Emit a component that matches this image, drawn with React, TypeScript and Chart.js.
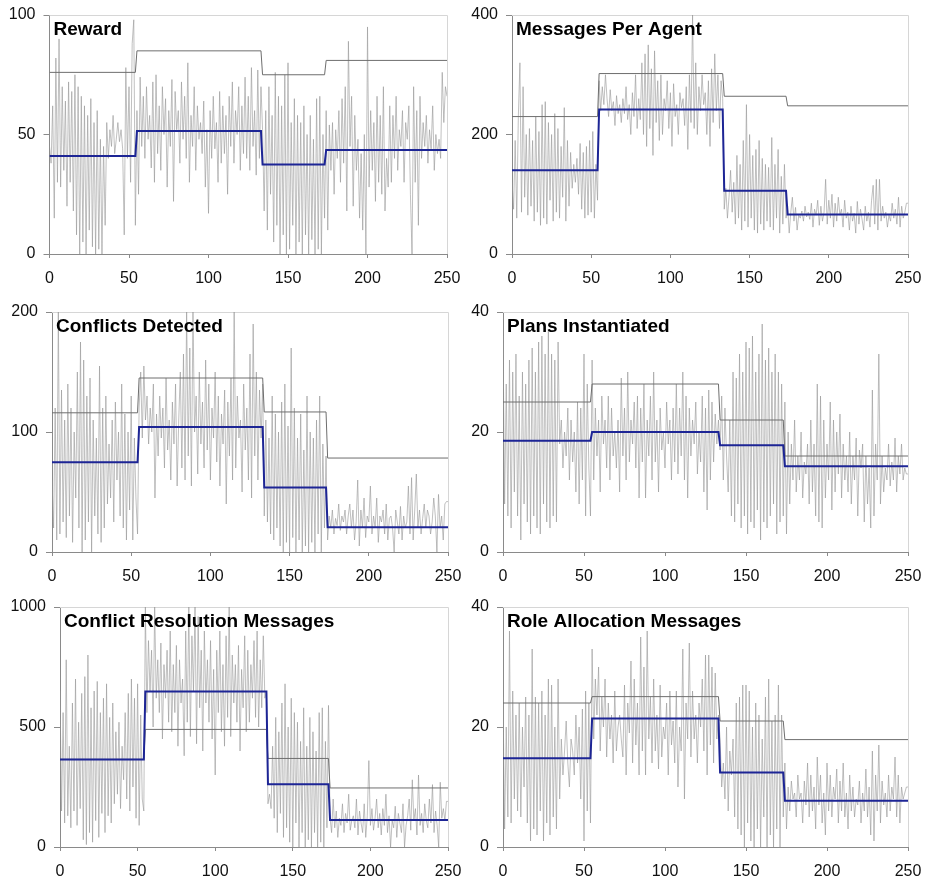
import React, { useEffect, useRef } from "react";
import { Chart, registerables } from "chart.js";

Chart.register(...registerables);

const X_TICKS = [0, 50, 100, 150, 200, 250];
const STEP_X = [0, 54, 55, 133, 134, 173, 174, 250];

const REWARD = [
  45, 38, 62, 15, 82, 30, 90, 28, 70, 35,
  64, 20, 72, 30, 68, 18, 75, 8, 70, 0,
  66, 5, 62, 0, 58, 10, 65, 3, 55, 0,
  60, 2, 48, 0, 45, 12, 55, 40, 52, 45,
  58, 42, 48, 55, 47, 52, 44, 8, 78, 40,
  70, 30, 88, 98, 12,
  60, 25, 74, 45, 66, 40, 70, 48, 58, 36,
  72, 30, 75, 42, 62, 35, 70, 50, 65, 28,
  60, 45, 73, 22, 68, 52, 60, 38, 72, 48,
  66, 40, 80, 30, 58, 45, 70, 35, 62, 48,
  55, 42, 64, 28, 52, 17, 60, 40, 66, 44,
  55, 30, 68, 38, 62, 42, 58, 25, 66, 45,
  72, 38, 60, 50, 70, 35, 62, 42, 74, 40,
  66, 35, 78, 45, 60, 33, 77, 40, 70,
  52, 18, 60, 10, 70, 25, 58, 5, 76, 12,
  66, 0, 62, 8, 75, 0, 80, 2, 55, 12,
  65, 0, 58, 5, 55, 0, 62, 8, 50, 0,
  58, 6, 48, 0, 65, 2, 66, 0, 50, 15,
  60, 10, 54, 35, 55, 25, 52, 40, 60, 30,
  65, 38, 70, 18, 89, 45, 66, 20, 58, 35,
  48, 15, 42, 10, 50, 0, 95, 28, 60, 35,
  55, 22, 66, 30, 58, 25, 70, 18, 40, 28,
  62, 30, 58, 40, 66, 35, 52, 45, 60, 30,
  55, 48, 62, 25, 0, 70, 30, 60, 12, 66,
  40, 55, 45, 58, 38, 52, 44, 62, 35, 50,
  42, 48, 40, 76, 55, 70, 66,
];
const REWARD_MEAN = [41, 51.5, 37.5, 43.5];
const REWARD_UPPER = [76, 85, 75, 81];

const MESSAGES = [
  120, 75, 190, 60, 230, 320, 70, 280, 95, 200,
  65, 210, 80, 190, 55, 230, 70, 205, 48, 250,
  60, 255, 50, 220, 90, 200, 55, 235, 70, 210,
  60, 180, 95, 245, 55, 190, 80, 170, 110, 150,
  120, 160, 100, 185, 75, 170, 60, 180, 65, 190,
  70, 205, 60, 150, 90,
  290, 240, 280, 250, 300, 260, 230, 275, 240, 255,
  215, 265, 235, 250, 220, 260, 235, 280, 225, 250,
  200, 270, 230, 300, 210, 260, 225, 320, 200, 335,
  180, 350, 210, 310, 165, 340, 220, 290, 190, 300,
  200, 260, 240, 290, 210, 270, 180, 285, 230, 250,
  200, 270, 245, 260, 215, 280, 175, 300, 220, 400,
  210, 320, 200, 280, 240, 300, 250, 270, 200, 290,
  180, 310, 220, 335, 240, 300, 210, 290, 260,
  75, 110, 60, 95, 140, 70, 120, 50, 165, 60,
  150, 40, 190, 55, 250, 45, 200, 60, 165, 40,
  175, 35, 190, 50, 160, 40, 150, 55, 145, 45,
  195, 40, 150, 60, 175, 35, 130, 50, 150, 60,
  80, 35, 70, 95, 55, 78, 40, 65, 60, 72,
  55, 80, 62, 70, 58, 85, 45, 75, 65, 90,
  48, 80, 55, 70, 125, 50, 90, 60, 100, 45,
  85, 55, 95, 65, 75, 45, 90, 60, 70, 40,
  80, 55, 68, 35, 88, 50, 75, 58, 40, 80,
  55, 70, 45, 90, 115, 50, 125, 40, 125, 55,
  80, 60, 70, 45, 65, 55, 85, 60, 75, 50,
  95, 45, 80, 60, 70, 85, 85,
];
const MESSAGES_MEAN = [140, 242, 106, 66];
const MESSAGES_UPPER = [230, 302, 264, 248];

const CONFLICTS = [
  60, 20, 120, 10, 200, 15, 135, 25, 110, 12,
  140, 30, 120, 8, 100, 45, 150, 20, 175, 0,
  160, 10, 130, 25, 145, 0, 110, 30, 95, 15,
  155, 8, 120, 20, 130, 40, 90, 45, 110, 25,
  125, 60, 100, 30, 140, 20, 115, 10, 100, 35,
  130, 10, 95, 45, 15,
  120, 150, 95, 155, 110, 130, 90, 120, 100, 140,
  45, 115, 80, 130, 95, 120, 70, 145, 85, 110,
  60, 125, 90, 140, 55, 110, 150, 70, 165, 60,
  200, 80, 170, 55, 200, 100, 130, 65, 150, 90,
  125, 70, 160, 85, 140, 60, 120, 95, 150, 75,
  130, 55, 115, 90, 135, 40, 125, 80, 145, 60,
  200, 70, 130, 95, 110, 50, 140, 85, 120, 60,
  165, 45, 190, 80, 150, 60, 135, 95, 140,
  30, 110, 25, 95, 15, 130, 10, 115, 20, 100,
  5, 125, 0, 140, 8, 105, 0, 170, 12, 120,
  0, 95, 10, 115, 0, 85, 5, 130, 0, 100,
  8, 95, 0, 110, 15, 130, 0, 90, 20, 80,
  10, 30, 20, 35, 15, 28, 22, 40, 18, 30,
  25, 35, 15, 30, 40, 20, 35, 10, 25, 60,
  5, 35, 20, 45, 12, 30, 25, 55, 15, 30,
  20, 45, 8, 30, 25, 35, 15, 40, 10, 28,
  30, 20, 0, 35, 25, 15, 38, 10, 30, 20,
  25, 55, 15, 62, 10, 35, 65, 20, 35, 15,
  28, 40, 20, 35, 30, 15, 25, 45, 30, 0,
  48, 20, 30, 10, 40, 42, 42,
];
const CONFLICTS_MEAN = [74.7, 104.2, 53.8, 20.6];
const CONFLICTS_UPPER = [116, 145, 116.7, 78.3];

const PLANS = [
  36, 8, 28, 6, 32, 4, 30, 10, 33, 6,
  26, 2, 30, 8, 28, 5, 32, 3, 34, 6,
  30, 4, 35, 3, 36, 8, 33, 5, 37, 4,
  33, 6, 32, 5, 35, 18, 22, 14, 20, 16,
  24, 12, 22, 15, 20, 10, 25, 8, 24, 12,
  33, 6, 28, 14, 6,
  32, 12, 24, 16, 22, 10, 26, 18, 22, 14,
  26, 12, 24, 16, 20, 14, 22, 10, 29, 16,
  24, 12, 30, 15, 22, 18, 25, 14, 26, 9,
  24, 15, 28, 9, 22, 16, 26, 12, 30, 15,
  22, 10, 24, 17, 20, 14, 25, 18, 22, 12,
  24, 15, 28, 13, 24, 16, 30, 12, 26, 9,
  24, 16, 22, 18, 25, 13, 20, 15, 26, 10,
  24, 7, 27, 12, 25, 15, 23, 18, 22,
  17, 26, 12, 24, 16, 10, 22, 6, 30, 5,
  29, 8, 33, 4, 30, 6, 35, 3, 34, 5,
  36, 4, 30, 7, 33, 2, 38, 5, 32, 4,
  34, 6, 30, 8, 33, 3, 30, 5, 28, 6,
  25, 3, 20, 8, 18, 12, 22, 10, 16, 12,
  20, 9, 15, 13, 18, 8, 22, 10, 18, 6,
  28, 5, 26, 4, 22, 9, 18, 12, 25, 7,
  22, 10, 20, 13, 23, 9, 18, 12, 16, 10,
  20, 8, 16, 12, 19, 6, 17, 14, 18, 5,
  16, 8, 14, 4, 27, 6, 18, 12, 33, 8,
  16, 10, 14, 12, 18, 11, 15, 12, 19, 10,
  16, 13, 18, 12, 14, 13, 13,
];
const PLANS_MEAN = [18.55, 20, 17.8, 14.3];
const PLANS_UPPER = [25, 28, 22, 16];

const RESOLUTION = [
  650, 150, 560, 100, 780, 130, 420, 80, 600, 150,
  700, 90, 520, 160, 640, 30, 710, 10, 800, 60,
  580, 20, 650, 110, 690, 40, 560, 140, 620, 60,
  680, 130, 540, 100, 600, 180, 480, 220, 520, 160,
  420, 280, 560, 200, 640, 150, 700, 250, 620, 120,
  680, 90, 550, 200, 150,
  1000, 560, 860, 650, 820, 500, 1000, 620, 780, 560,
  850, 450, 760, 620, 820, 520, 900, 480, 760, 560,
  840, 420, 780, 600, 700, 380, 900, 520, 1000, 460,
  880, 650, 1000, 430, 960, 580, 820, 400, 900, 600,
  780, 520, 860, 450, 740, 300, 820, 560, 900, 480,
  760, 420, 880, 540, 1000, 460, 800, 600, 760, 520,
  840, 400, 740, 580, 880, 480, 820, 520, 760, 620,
  860, 540, 900, 500, 780, 580, 880, 620, 650,
  180, 220, 160, 420, 120, 540, 60, 480, 140, 600,
  40, 680, 80, 500, 20, 620, 0, 560, 100, 520,
  0, 440, 60, 580, 0, 420, 30, 540, 0, 480,
  60, 400, 0, 560, 20, 580, 0, 440, 80, 590,
  120, 60, 200, 80, 150, 40, 120, 90, 180, 60,
  140, 100, 220, 70, 110, 130, 80, 200, 50, 150,
  100, 60, 180, 40, 130, 360, 90, 160, 70, 120,
  200, 80, 140, 50, 160, 90, 220, 60, 130, 0,
  110, 80, 170, 40, 140, 100, 60, 180, 0, 90,
  130, 200, 70, 280, 110, 160, 50, 300, 90, 140,
  60, 180, 110, 80, 200, 100, 260, 60, 150, 90,
  0, 270, 120, 160, 110, 190, 190,
];
const RESOLUTION_MEAN = [365, 648, 261, 112];
const RESOLUTION_UPPER = [365, 490, 369, 246];

const ROLES = [
  25, 3, 20, 5, 36, 4, 26, 8, 22, 6,
  24, 5, 20, 10, 25, 4, 22, 1, 33, 3,
  25, 2, 24, 6, 26, 1, 22, 4, 28, 2,
  27, 5, 20, 3, 28, 8, 18, 12, 16, 21,
  14, 10, 18, 16, 12, 22, 14, 20, 8, 23,
  1, 26, 6, 24, 4,
  33, 18, 28, 22, 30, 16, 25, 20, 28, 15,
  24, 18, 22, 14, 26, 16, 20, 22, 18, 15,
  27, 12, 24, 19, 31, 14, 28, 17, 24, 12,
  35, 16, 30, 12, 36, 18, 25, 14, 28, 16,
  22, 13, 27, 15, 20, 18, 24, 12, 26, 17,
  21, 14, 26, 10, 20, 16, 33, 8, 24, 18,
  34, 15, 26, 18, 22, 14, 24, 20, 28, 16,
  32, 12, 32, 17, 30, 14, 29, 18, 22,
  18, 10, 14, 8, 20, 6, 16, 12, 18, 5,
  24, 3, 25, 2, 27, 0, 27, 4, 26, 1,
  20, 0, 24, 3, 22, 0, 18, 5, 25, 0,
  28, 2, 21, 0, 22, 3, 27, 0, 22, 5,
  14, 3, 10, 6, 11, 8, 9, 5, 12, 8,
  9, 4, 11, 7, 14, 5, 12, 6, 10, 3,
  15, 7, 12, 4, 9, 2, 14, 6, 12, 5,
  10, 8, 13, 4, 11, 6, 14, 5, 9, 3,
  12, 6, 10, 5, 8, 7, 11, 4, 9, 6,
  13, 5, 10, 2, 16, 1, 12, 6, 17, 4,
  11, 7, 9, 5, 12, 6, 10, 8, 15, 5,
  12, 4, 10, 8, 9, 10, 10,
];
const ROLES_MEAN = [14.8, 21.4, 12.4, 7.7];
const ROLES_UPPER = [24, 25.06, 21, 17.9];

const TITLES = [
  "Reward",
  "Messages Per Agent",
  "Conflicts Detected",
  "Plans Instantiated",
  "Conflict Resolution Messages",
  "Role Allocation Messages",
];
const Y_TICKS = [
  [0, 50, 100],
  [0, 200, 400],
  [0, 100, 200],
  [0, 20, 40],
  [0, 500, 1000],
  [0, 20, 40],
];
const NOISE = [REWARD, MESSAGES, CONFLICTS, PLANS, RESOLUTION, ROLES];
const MEANS = [REWARD_MEAN, MESSAGES_MEAN, CONFLICTS_MEAN, PLANS_MEAN, RESOLUTION_MEAN, ROLES_MEAN];
const UPPERS = [REWARD_UPPER, MESSAGES_UPPER, CONFLICTS_UPPER, PLANS_UPPER, RESOLUTION_UPPER, ROLES_UPPER];

// layout: canvas box and chart area inside canvas (left, right, top, bottom)
const BOXES = [
  { x: 0, y: 0, w: 463, h: 292, l: 49.5, r: 447, t: 15, b: 254 },
  { x: 463, y: 0, w: 463, h: 292, l: 49, r: 445, t: 15, b: 254 },
  { x: 0, y: 296, w: 463, h: 292, l: 52, r: 448, t: 16, b: 256 },
  { x: 463, y: 296, w: 463, h: 292, l: 40, r: 445, t: 16, b: 256 },
  { x: 0, y: 592, w: 463, h: 292, l: 60, r: 448, t: 15, b: 255 },
  { x: 463, y: 592, w: 463, h: 292, l: 40, r: 445, t: 15, b: 255 },
];

const FONT = '"Liberation Sans", Arial, Helvetica, sans-serif';

function stepPoints(levels: number[]) {
  const ys = [levels[0], levels[0], levels[1], levels[1], levels[2], levels[2], levels[3], levels[3]];
  return STEP_X.map((x, i) => ({ x, y: ys[i] }));
}

function Panel({ idx }: { idx: number }) {
  const ref = useRef<HTMLCanvasElement | null>(null);
  const box = BOXES[idx];
  useEffect(() => {
    if (!ref.current) return;
    const yTicks = Y_TICKS[idx];
    const title = TITLES[idx];
    const framePlugin = {
      id: "frame" + idx,
      beforeDatasetsDraw(chart: any) {
        const { ctx, chartArea } = chart;
        ctx.save();
        ctx.strokeStyle = "#d6d6d6";
        ctx.lineWidth = 1;
        ctx.beginPath();
        ctx.moveTo(chartArea.left, Math.round(chartArea.top) + 0.5);
        ctx.lineTo(Math.round(chartArea.right) + 0.5, Math.round(chartArea.top) + 0.5);
        ctx.lineTo(Math.round(chartArea.right) + 0.5, chartArea.bottom);
        ctx.stroke();
        ctx.restore();
      },
      afterDraw(chart: any) {
        const { ctx, chartArea } = chart;
        ctx.save();
        ctx.font = "bold 19px " + FONT;
        ctx.fillStyle = "#000";
        ctx.textBaseline = "alphabetic";
        ctx.textAlign = "left";
        ctx.fillText(title, chartArea.left + 4, chartArea.top + 20);
        ctx.restore();
      },
    };
    const chart = new Chart(ref.current, {
      type: "line",
      data: {
        datasets: [
          {
            data: stepPoints(MEANS[idx]),
            borderColor: "#1d2595",
            borderWidth: 2,
            pointRadius: 0,
          },
          {
            data: stepPoints(UPPERS[idx]),
            borderColor: "#6e6e6e",
            borderWidth: 1,
            pointRadius: 0,
          },
          {
            data: NOISE[idx].map((v, i) => ({ x: i, y: v })),
            borderColor: "rgba(150,150,150,0.6)",
            borderWidth: 1,
            pointRadius: 0,
          },
        ],
      },
      options: {
        animation: false,
        responsive: false,
        events: [],
        parsing: false,
        layout: { padding: { left: 0, right: box.w - box.r, top: box.t, bottom: 0 } },
        plugins: {
          legend: { display: false },
          tooltip: { enabled: false },
          title: { display: false },
        },
        elements: { line: { tension: 0 }, point: { radius: 0 } },
        scales: {
          x: {
            type: "linear",
            min: 0,
            max: 250,
            afterFit: (s: any) => {
              s.height = box.h - box.b;
              s.paddingLeft = 0;
              s.paddingRight = 0;
            },
            afterBuildTicks: (s: any) => {
              s.ticks = X_TICKS.map((v) => ({ value: v }));
            },
            grid: { drawOnChartArea: false, drawTicks: true, tickLength: 4, color: "#8a8a8a" },
            border: { display: true, color: "#8a8a8a", width: 1 },
            ticks: {
              font: { family: FONT, size: 16 },
              color: "#111",
              padding: 11,
              maxRotation: 0,
              autoSkip: false,
              callback: (v: any) => String(v),
            },
          },
          y: {
            type: "linear",
            min: 0,
            max: yTicks[2],
            afterFit: (s: any) => {
              s.width = box.l;
              s.paddingTop = 0;
              s.paddingBottom = 0;
            },
            afterBuildTicks: (s: any) => {
              s.ticks = yTicks.map((v) => ({ value: v }));
            },
            grid: { drawOnChartArea: false, drawTicks: true, tickLength: 6, color: "#8a8a8a" },
            border: { display: true, color: "#8a8a8a", width: 1 },
            ticks: {
              font: { family: FONT, size: 16 },
              color: "#111",
              padding: 8,
              autoSkip: false,
              callback: (v: any) => String(v),
            },
          },
        },
      } as any,
      plugins: [framePlugin],
    });
    return () => chart.destroy();
  }, [idx]);
  return (
    <canvas
      ref={ref}
      width={box.w}
      height={box.h}
      style={{ position: "absolute", left: box.x, top: box.y, width: box.w, height: box.h }}
    />
  );
}

export default function App() {
  return (
    <div
      style={{
        position: "absolute",
        left: 0,
        top: 0,
        width: 926,
        height: 884,
        background: "#fff",
        overflow: "hidden",
      }}
    >
      {TITLES.map((_, i) => (
        <Panel key={i} idx={i} />
      ))}
    </div>
  );
}
